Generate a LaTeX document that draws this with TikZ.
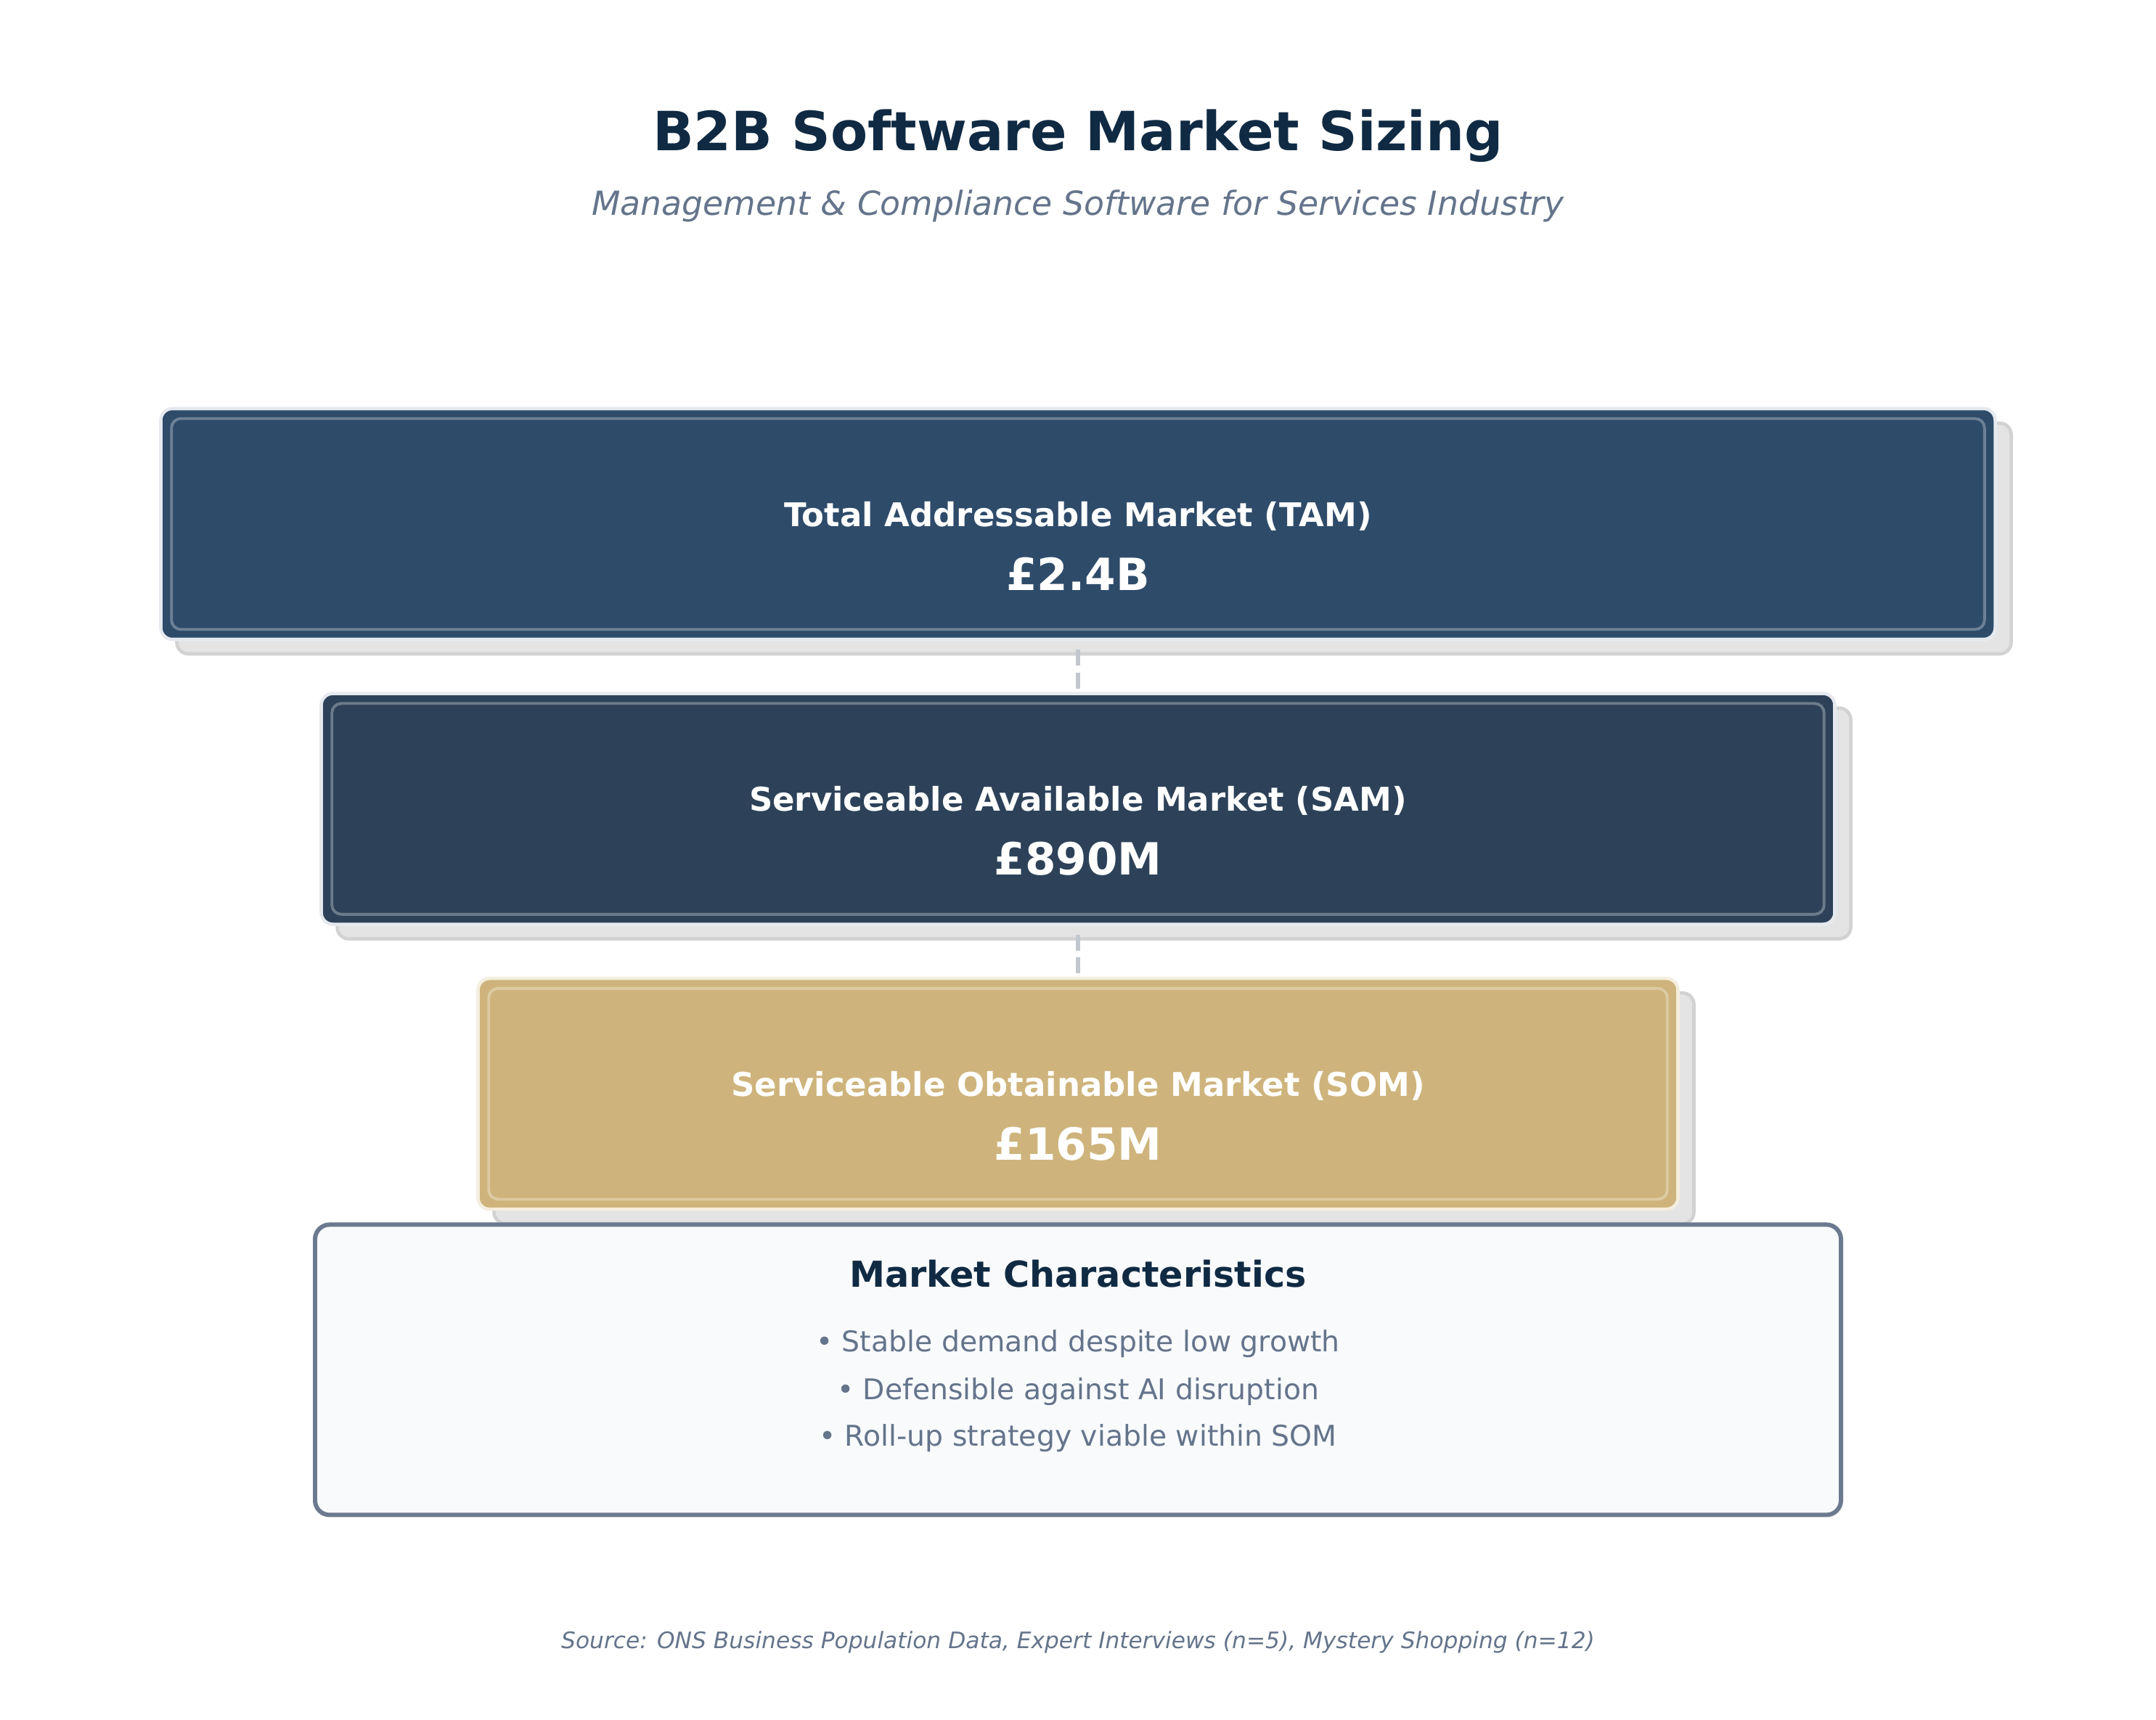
\documentclass[tikz,border=0pt]{standalone}
\usepackage{fontspec}
\setmainfont{DejaVu Sans}
\usetikzlibrary{positioning,shadows}
\definecolor{titleblue}{HTML}{102A43}
\definecolor{slategray}{HTML}{64748B}
\definecolor{tamblue}{HTML}{2E4B6A}
\definecolor{samblue}{HTML}{2D4259}
\definecolor{somgold}{HTML}{CEB47C}
\definecolor{paleedge}{HTML}{E6EAEF}
\definecolor{creamedge}{HTML}{F4EEDF}
\definecolor{shadowfill}{HTML}{E4E4E4}
\definecolor{shadowedge}{HTML}{D2D2D2}
\definecolor{panelfill}{HTML}{F8FAFC}
\definecolor{paneledge}{HTML}{6B7A8F}
\definecolor{dashgray}{HTML}{C2C7CE}
\tikzstyle{market}=[rectangle,rounded corners=0.16cm,line width=1.3pt,minimum height=3.18cm,
drop shadow={shadow xshift=0.22cm,shadow yshift=-0.2cm,fill=shadowfill,draw=shadowedge,opacity=1}]
\tikzstyle{tambox}=[market,fill=tamblue,draw=paleedge,minimum width=25.27cm]
\tikzstyle{sambox}=[market,fill=samblue,draw=paleedge,minimum width=20.85cm]
\tikzstyle{sombox}=[market,fill=somgold,draw=creamedge,minimum width=16.53cm]
\tikzstyle{innerframe}=[rounded corners=0.13cm,line width=1.1pt,draw=white,draw opacity=0.3]
\tikzstyle{boxlabel}=[text=white,anchor=base,font=\fontsize{12.8}{15}\selectfont\bfseries]
\tikzstyle{boxvalue}=[text=white,anchor=base,font=\fontsize{17.4}{21}\selectfont\bfseries]
\tikzstyle{panel}=[rectangle,rounded corners=0.2cm,line width=1.7pt,draw=paneledge,
fill=panelfill,minimum width=21.02cm,minimum height=4.0cm]
\tikzstyle{bullet}=[text=slategray,anchor=base,font=\fontsize{11.2}{13}\selectfont]
\tikzstyle{link}=[draw=dashgray,line width=1.8pt,dash pattern=on 6.2pt off 2.8pt,shorten <=0.12cm]

\begin{document}
\begin{tikzpicture}
            \useasboundingbox (0,0) rectangle (29.7,-23.7);

            % HEADER

            \node[anchor=base,text=titleblue,font=\fontsize{21.2}{25}\selectfont\bfseries] (title) at (14.85,-2.08) {B2B Software Market Sizing};
            \node[anchor=base,text=slategray,font=\fontsize{13}{16}\selectfont\itshape] (subtitle) at (14.85,-2.97) {Management \& Compliance Software for Services Industry};

            % MARKET BOXES

            \node[tambox] (tam) at (14.85,-7.22) {};
            \node[sambox, below =0.70cm of tam] (sam) {};
            \node[sombox, below =0.70cm of sam] (som) {};

            \draw[innerframe] ([xshift=0.17cm,yshift=-0.16cm]tam.north west) rectangle ([xshift=-0.17cm,yshift=0.16cm]tam.south east);
            \draw[innerframe] ([xshift=0.17cm,yshift=-0.16cm]sam.north west) rectangle ([xshift=-0.17cm,yshift=0.16cm]sam.south east);
            \draw[innerframe] ([xshift=0.17cm,yshift=-0.16cm]som.north west) rectangle ([xshift=-0.17cm,yshift=0.16cm]som.south east);

            \node[boxlabel] (tamlabel) at ([yshift=-0.03cm]tam.center) {Total Addressable Market (TAM)};
            \node[boxvalue] (tamvalue) at ([yshift=-0.91cm]tam.center) {£2.4B};
            \node[boxlabel] (samlabel) at ([yshift=-0.03cm]sam.center) {Serviceable Available Market (SAM)};
            \node[boxvalue] (samvalue) at ([yshift=-0.91cm]sam.center) {£890M};
            \node[boxlabel] (somlabel) at ([yshift=-0.03cm]som.center) {Serviceable Obtainable Market (SOM)};
            \node[boxvalue] (somvalue) at ([yshift=-0.91cm]som.center) {£165M};

            % Links between markets

            \path[link] (tam) edge (sam);
            \path[link] (sam) edge (som);

            % CHARACTERISTICS PART

            \node[panel, below =0.16cm of som] (chars) {};
            \node[anchor=base,text=titleblue,font=\fontsize{14}{17}\selectfont\bfseries] (charhead) at ([yshift=1.14cm]chars.center) {Market Characteristics};
            \node[bullet] (point1) at ([yshift=0.25cm]chars.center) {• Stable demand despite low growth};
            \node[bullet] (point2) at ([yshift=-0.41cm]chars.center) {• Defensible against AI disruption};
            \node[bullet] (point3) at ([yshift=-1.05cm]chars.center) {• Roll-up strategy viable within SOM};

            % SOURCE

            \node[anchor=base,text=slategray,font=\fontsize{8.9}{11}\selectfont\itshape] (source) at (14.85,-22.71) {Source: ONS Business Population Data, Expert Interviews (n=5), Mystery Shopping (n=12)};

\end{tikzpicture}
\end{document}
